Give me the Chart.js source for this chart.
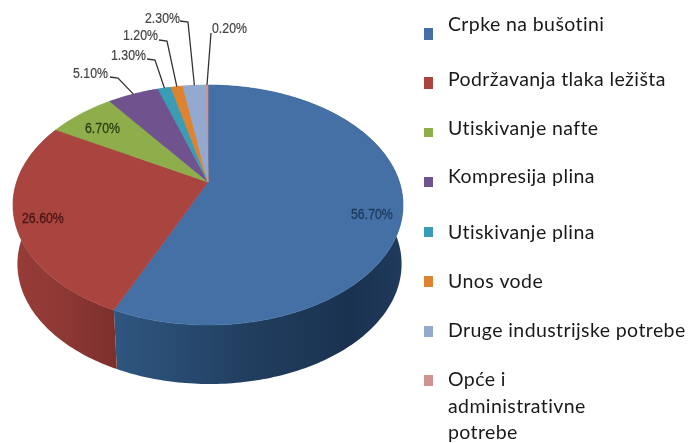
<!DOCTYPE html>
<html>
<head>
<meta charset="utf-8">
<style>
html,body{margin:0;padding:0;background:#fff;overflow:hidden}
#c{display:block;filter:blur(0.55px)}
</style>
<script src="https://cdn.jsdelivr.net/npm/chart.js@4"></script>
</head>
<body>
<canvas id="c" width="689" height="443"></canvas>
<script>
const categories = ["Crpke na bušotini","Podržavanja tlaka ležišta","Utiskivanje nafte","Kompresija plina","Utiskivanje plina","Unos vode","Druge industrijske potrebe","Opće i administrativne potrebe"];
const legendLines = [["Crpke na bušotini"],["Podržavanja tlaka ležišta"],["Utiskivanje nafte"],["Kompresija plina"],["Utiskivanje plina"],["Unos vode"],["Druge industrijske potrebe"],["Opće i","administrativne","potrebe"]];
const shares = [56.7,26.6,6.7,5.1,1.3,1.2,2.3,0.2];
const colours = ["#4570A6","#A9443F","#8DAE4B","#70528F","#3A9DB5","#DE8431","#93A9CF","#D19392"];

// layout
const legendTextY = [25,80,129,177,233,282,331,380];
const legendBoxes = [[28,12],[77,12],[128,9],[177,10],[227,10],[276,11],[326,11],[375,11]];
const FONT = 'Lato', LABEL = '"Liberation Sans"';
const CX=208, APEX=182, A=80.7, C=-0.1917, D=191.4, DEPTH=59;
function proj(a){const u=Math.cos(a),v=Math.sin(a),w=1+C*v;return [CX+D*u/w,(A*v+APEX)/w];}
function base(p){return [CX+(p[0]-CX)*0.985+1.5,p[1]+DEPTH];}
const outsideLabels = [
  null,null,null,
  {x:73,y:74,pts:[[110,77],[118,78]]},
  {x:111,y:56,pts:[[147,59],[155,60]]},
  {x:123,y:36,pts:[[159,40],[167,41]]},
  {x:145,y:19,pts:[[180,21],[188,22]]},
  {x:212,y:29,pts:[[211,33]]}
];
const insideLabels = [
  {x:351,y:215,c:"#1d3a5c"},{x:22,y:219,c:"#4a1614"},{x:85,y:129,c:"#2d3f14"}
];
function narrowText(ctx,t,x,y,weight){
  ctx.save();ctx.translate(x,y);ctx.scale(0.88,1);
  ctx.fillText(t,0,0);
  ctx.lineWidth=weight;ctx.strokeStyle=ctx.fillStyle;ctx.strokeText(t,0,0);
  ctx.restore();
}
function topPath(ctx,el){
  const a0=el.startAngle,a1=el.endAngle,n=Math.max(2,Math.ceil((a1-a0)*60));
  ctx.beginPath();ctx.moveTo(CX,APEX);
  for(let i=0;i<=n;i++){const p=proj(a0+(a1-a0)*i/n);ctx.lineTo(p[0],p[1]);}
  ctx.closePath();
}
const pie3d = {
  id:'pie3d',
  afterDatasetUpdate(chart){
    chart.getDatasetMeta(0).data.forEach(el=>{
      el.draw=function(ctx){
        ctx.save();topPath(ctx,el);ctx.fillStyle=el.options.backgroundColor;ctx.fill();
        ctx.strokeStyle=el.options.backgroundColor;ctx.lineWidth=0.6;ctx.stroke();ctx.restore();
      };
    });
  },
  beforeDatasetsDraw(chart){
    const ctx=chart.ctx,els=chart.getDatasetMeta(0).data;
    const wall=[
      [[117,"#2f5680"],[250,"#213e5f"],[350,"#1a3250"],[402,"#1f3a5c"]],
      [[15,"#973c38"],[60,"#8f3935"],[117,"#7c2f2c"]]
    ];
    els.forEach((el,i)=>{
      const a0=el.startAngle,a1=el.endAngle,n=Math.max(2,Math.ceil((a1-a0)*60));
      const top=[];for(let k=0;k<=n;k++)top.push(proj(a0+(a1-a0)*k/n));
      ctx.beginPath();
      top.forEach((p,k)=>k?ctx.lineTo(p[0],p[1]):ctx.moveTo(p[0],p[1]));
      for(let k=n;k>=0;k--){const b=base(top[k]);ctx.lineTo(b[0],b[1]);}
      ctx.closePath();
      if(wall[i]){
        const s=wall[i][0][0],e=wall[i][wall[i].length-1][0];
        const g=ctx.createLinearGradient(s,0,e,0);
        wall[i].forEach(t=>g.addColorStop((t[0]-s)/(e-s),t[1]));
        ctx.fillStyle=g;
      } else ctx.fillStyle=colours[i];
      ctx.fill();
    });
  },
  afterDatasetsDraw(chart){
    const ctx=chart.ctx,els=chart.getDatasetMeta(0).data;
    ctx.save();
    ctx.textBaseline='middle';ctx.textAlign='left';
    ctx.font='14px '+LABEL;
    shares.forEach((v,i)=>{
      const t=v.toFixed(2)+'%';
      const lab=outsideLabels[i];
      if(lab){
        const el=els[i],p=proj((el.startAngle+el.endAngle)/2);
        ctx.fillStyle='#444';
        narrowText(ctx,t,lab.x,lab.y,0.2);
        ctx.strokeStyle='#333';ctx.lineWidth=1.3;ctx.beginPath();
        lab.pts.forEach((q,k)=>k?ctx.lineTo(q[0],q[1]):ctx.moveTo(q[0],q[1]));
        ctx.lineTo(p[0],p[1]);ctx.stroke();
      } else {
        const l=insideLabels[i];
        ctx.fillStyle=l.c;narrowText(ctx,t,l.x,l.y,0.3);
      }
    });
    // legend
    ctx.font='19.5px '+FONT;ctx.letterSpacing='0.4px';
    legendLines.forEach((lines,i)=>{
      ctx.fillStyle=colours[i];
      ctx.fillRect(424,legendBoxes[i][0],9,legendBoxes[i][1]);
      ctx.fillStyle='#1a1a1a';
      lines.forEach((s,k)=>ctx.fillText(s,448,legendTextY[i]+k*26.5));
    });
    ctx.restore();
  }
};
new Chart(document.getElementById('c'),{
  type:'pie',
  data:{labels:categories,datasets:[{data:shares,backgroundColor:colours,borderWidth:0}]},
  options:{responsive:false,animation:false,plugins:{legend:{display:false},tooltip:{enabled:false}}},
  plugins:[pie3d]
});
</script>
</body>
</html>
